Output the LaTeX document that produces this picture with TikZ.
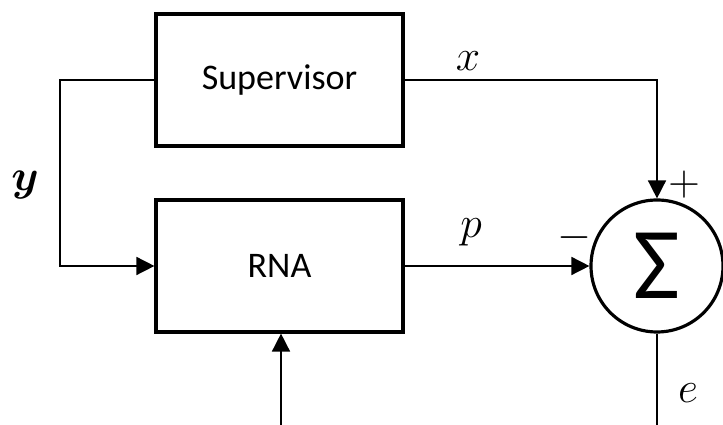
\documentclass[tikz,border=0pt]{standalone}
\usepackage{amsmath}
\usepackage{bm}
\usepackage{fontspec}
\setmainfont{Carlito}
\usepackage{tikz}
\usetikzlibrary{arrows.meta, positioning, calc}
\definecolor{mydark}{RGB}{0,0,0}
\tikzset{
  block/.style={rectangle, draw=mydark, minimum width=4.94cm, minimum height=2.64cm,
    font=\fontsize{20.5}{24}\selectfont, line width=1.8pt, inner sep=0pt},
  sumjunc/.style={circle, draw=mydark, minimum size=2.64cm, inner sep=0pt,
    font=\fontsize{58}{60}\selectfont, line width=1.8pt},
  arrow/.style={-{Triangle[length=0.36cm, width=0.36cm]}, line width=0.9pt, color=mydark},
  line/.style={line width=0.9pt, color=mydark},
  sig/.style={font=\fontsize{29}{32}\selectfont, inner sep=0pt}
}
\begin{document}
\begin{tikzpicture}
  \useasboundingbox (0,0) rectangle (14.46,-8.5);
  % --- BLOCKS ---
  \node[block] (sup) at (5.59,-1.6) {Supervisor};
  \node[block] (rna) at (5.59,-5.32) {RNA};
  \node[sumjunc] (sum) at (13.14,-5.32) {Σ};

  % --- FREE ENDS ---
  \coordinate (yturn) at (1.2,-1.6);
  \coordinate (xturn) at (13.14,-1.6);
  \coordinate (inlow) at (5.62,-8.5);
  \coordinate (eout) at (13.14,-8.5);

  % --- CONNECTORS ---
  \draw[arrow] (sup.west) -- (yturn) |- (rna.west);
  \draw[arrow] (sup.east) -- (xturn) -- (sum.north);
  \draw[arrow] (rna.east) -- (sum.west);
  \draw[arrow] (inlow) -- (rna.south -| inlow);
  \draw[line] (sum.south) -- (eout);

  % --- LABELS ---
  \node[sig] (ylab) at (0.5,-3.7) {$\bm{y}$};
  \node[sig] (xlab) at (9.36,-1.22) {$x$};
  \node[sig] (plab) at (9.42,-4.64) {$p$};
  \node[sig] (plus) at (13.68,-3.7) {$+$};
  \node[sig] (minus) at (11.48,-4.76) {$-$};
  \node[sig] (elab) at (13.76,-7.86) {$e$};
\end{tikzpicture}
\end{document}
